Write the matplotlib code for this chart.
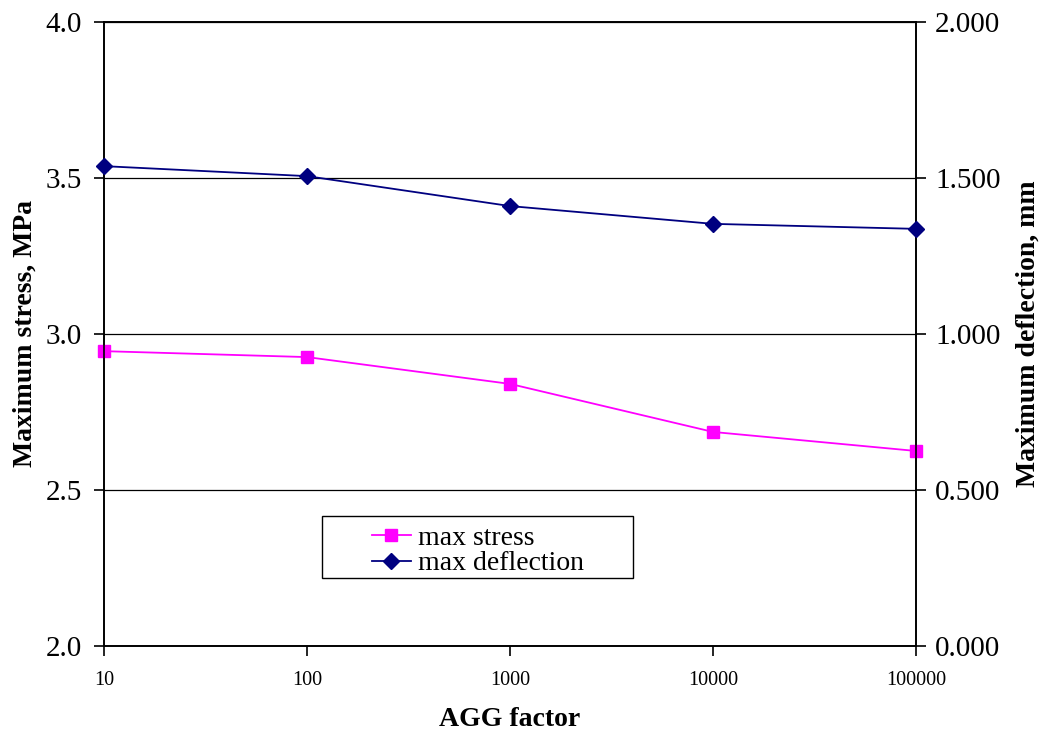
import matplotlib.pyplot as plt
from matplotlib.patches import Rectangle
from matplotlib.ticker import FixedLocator, FixedFormatter, NullLocator

agg_factor = [10, 100, 1000, 10000, 100000]
max_stress = [2.945, 2.926, 2.840, 2.686, 2.625]
max_deflection = [1.538, 1.506, 1.410, 1.353, 1.337]

x_labels = ['10', '100', '1000', '10000', '100000']

plt.rcParams['font.family'] = ['Liberation Serif', 'DejaVu Serif']

fig = plt.figure(figsize=(10.42, 7.36), dpi=100)
ax = fig.add_axes([0.0998, 0.1223, 0.7795, 0.8478])
ax2 = ax.twinx()

l1, = ax.plot(agg_factor, max_stress, color='#ff00ff', marker='s', markersize=9,
              linewidth=1.3, label='max stress', clip_on=False, zorder=5)
l2, = ax2.plot(agg_factor, max_deflection, color='#000080', marker='D', markersize=8,
               linewidth=1.3, label='max deflection', clip_on=False, zorder=5)

ax.set_xscale('log')
ax.set_xlim(10, 100000)
ax.xaxis.set_major_locator(FixedLocator(agg_factor))
ax.xaxis.set_major_formatter(FixedFormatter(x_labels))
ax.xaxis.set_minor_locator(NullLocator())

ax.set_ylim(2.0, 4.0)
ax.set_yticks([2.0, 2.5, 3.0, 3.5, 4.0])
ax.set_yticklabels(['2.0', '2.5', '3.0', '3.5', '4.0'])
ax2.set_ylim(0.0, 2.0)
ax2.set_yticks([0.0, 0.5, 1.0, 1.5, 2.0])
ax2.set_yticklabels(['0.000', '0.500', '1.000', '1.500', '2.000'])

ax.grid(axis='y', color='black', linewidth=0.9)
ax.set_axisbelow(True)

ax.tick_params(axis='y', labelsize=21, direction='out', length=7, width=1.2, pad=9)
ax2.tick_params(axis='y', labelsize=21, direction='out', length=7, width=1.2, pad=6.5)
ax.tick_params(axis='x', labelsize=14.5, direction='out', length=7, width=1.2, pad=11)

for sp in ax.spines.values():
    sp.set_linewidth(1.2)
for sp in ax2.spines.values():
    sp.set_linewidth(1.2)

ax.set_xlabel('AGG factor', fontsize=20, fontweight='bold', labelpad=12)
ax.set_ylabel('Maximum stress, MPa', fontsize=20, fontweight='bold', labelpad=5.5)
ax2.set_ylabel('Maximum deflection, mm', fontsize=20, fontweight='bold', labelpad=11)

# legend box like the original
ax.add_patch(Rectangle((0.268, 0.109), 0.383, 0.099, transform=ax.transAxes,
                       facecolor='white', edgecolor='black', linewidth=1.0,
                       zorder=6, clip_on=False))
leg = ax2.legend(handles=[l1, l2], loc='center', bbox_to_anchor=(0.46, 0.1525),
                 fontsize=20, frameon=False, borderpad=0, handlelength=1.4,
                 labelspacing=0.0, borderaxespad=0, handletextpad=0.25)
leg.set_zorder(7)

fig.savefig('out.png', dpi=100)
